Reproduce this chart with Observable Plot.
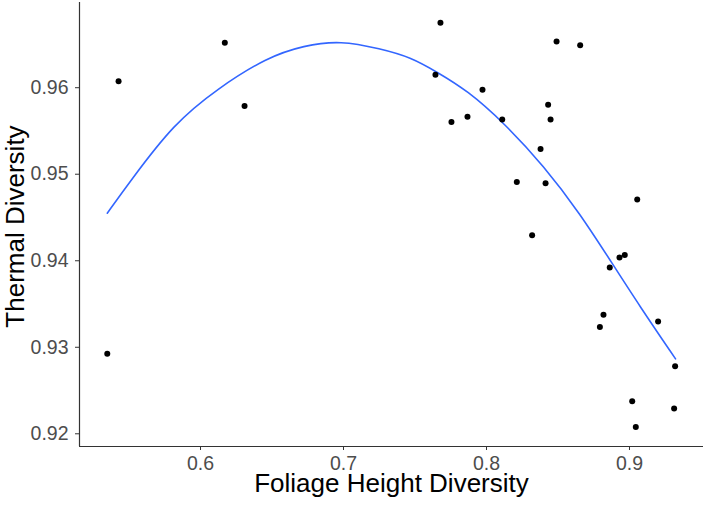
<!DOCTYPE html>
<html>
<head>
<meta charset="utf-8">
<script src="https://cdn.jsdelivr.net/npm/d3@7"></script>
<script src="https://cdn.jsdelivr.net/npm/@observablehq/plot@0.6"></script>
<style>
  html, body { margin: 0; padding: 0; background: #fff; }
  svg { display: block; }
</style>
</head>
<body>
<div id="chart"></div>
<script>
// Observed points
const foliageHeightDiversity = [0.5427, 0.6170, 0.6308, 0.5348, 0.7678, 0.8490, 0.8655, 0.7643, 0.7972, 0.8431,
  0.7755, 0.7867, 0.8110, 0.8448, 0.8378, 0.8212, 0.8413, 0.9054, 0.8319, 0.8930,
  0.8967, 0.8862, 0.8818, 0.8793, 0.9200, 0.9319, 0.9019, 0.9312, 0.9044];
const thermalDiversity = [0.96076, 0.9652, 0.95788, 0.92924, 0.96751, 0.96535, 0.96492, 0.96150, 0.95977, 0.95804,
  0.95603, 0.95665, 0.95634, 0.95634, 0.95291, 0.94911, 0.94896, 0.94707, 0.94296, 0.94038,
  0.94066, 0.93923, 0.93377, 0.93235, 0.93297, 0.92781, 0.92377, 0.92292, 0.92077];

// Smooth (fitted) curve
const fitX = [0.5348, 0.5510, 0.5813, 0.6117, 0.6466, 0.6723, 0.6979, 0.7259, 0.7469, 0.7655,
  0.7865, 0.8121, 0.8401, 0.8657, 0.8867, 0.9077, 0.9322];
const fitY = [0.9455, 0.94923, 0.95584, 0.95988, 0.96353, 0.96488, 0.96546, 0.9645, 0.96353, 0.9618,
  0.95969, 0.95596, 0.95096, 0.94538, 0.9400, 0.93461, 0.92866];

// Axis ticks and extents
const xTicks = [0.6, 0.7, 0.8, 0.9];
const yTicks = [0.92, 0.93, 0.94, 0.95, 0.96];
const xDomain = [0.51538, 0.95175];
const yDomain = [0.91853, 0.96985];
const xTitle = "Foliage Height Diversity";
const yTitle = "Thermal Diversity";

const points = foliageHeightDiversity.map((x, i) => ({x, y: thermalDiversity[i]}));
const fit = fitX.map((x, i) => ({x, y: fitY[i]}));

const font = "'Liberation Sans', Arial, Helvetica, sans-serif";

const chart = Plot.plot({
  width: 707,
  height: 507,
  marginLeft: 79,
  marginRight: 4,
  marginTop: 2,
  marginBottom: 61,
  style: {fontFamily: font, background: "#fff"},
  x: {domain: xDomain},
  y: {domain: yDomain},
  marks: [
    Plot.axisX({ticks: xTicks, tickFormat: d3.format(".1f"), tickSize: 4, tickPadding: 6,
      fontSize: 19.5, color: "#4D4D4D", stroke: "#333", label: null}),
    Plot.axisY({ticks: yTicks, tickFormat: d3.format(".2f"), tickSize: 4, tickPadding: 7,
      fontSize: 19.5, color: "#4D4D4D", stroke: "#333", label: null}),
    Plot.ruleX([xDomain[0]], {stroke: "#333", strokeWidth: 1.2}),
    Plot.ruleY([yDomain[0]], {stroke: "#333", strokeWidth: 1.2}),
    Plot.line(fit, {x: "x", y: "y", stroke: "#3366FF", strokeWidth: 1.6, curve: "basis"}),
    Plot.dot(points, {x: "x", y: "y", r: 3, fill: "black", stroke: "none"}),
    Plot.text([xTitle], {frameAnchor: "bottom", dy: 45, fontSize: 26, fill: "black", textAnchor: "middle"}),
    Plot.text([yTitle], {frameAnchor: "left", textAnchor: "middle", rotate: -90, dx: -64, dy: 2, fontSize: 26, fill: "black"})
  ]
});

document.getElementById("chart").appendChild(chart);
</script>
</body>
</html>
